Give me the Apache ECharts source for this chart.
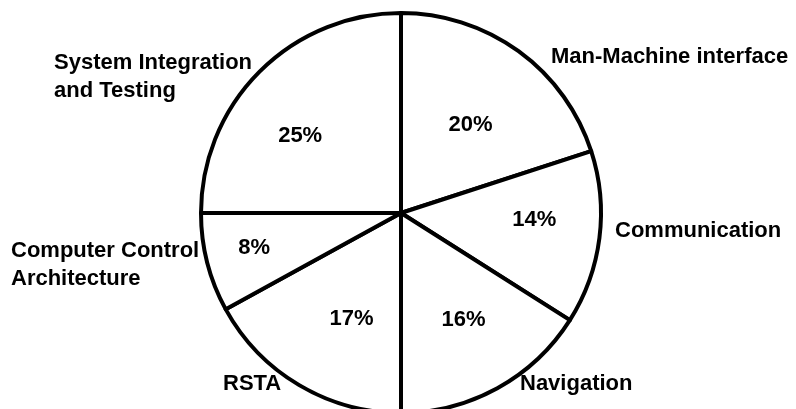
<!DOCTYPE html>
<html>
<head>
<meta charset="utf-8">
<script src="https://cdn.jsdelivr.net/npm/echarts@6/dist/echarts.min.js"></script>
<style>
html,body{margin:0;padding:0;background:#fff;}
#chart{width:796px;height:409px;}
</style>
</head>
<body>
<div id="chart"></div>
<script>
// Data (clockwise from 12 o'clock)
const categories = ['Man-Machine interface', 'Communication', 'Navigation', 'RSTA', 'Computer Control\nArchitecture', 'System Integration\nand Testing'];
const shares = [20, 14, 16, 17, 8, 25];

// Label styling / placement (not data)
const pctOffsets = [[9, -5], [31, -6], [13, 17], [3, 17], [-47, 9], [-28, -4]];
const namePos = [[551, 57], [615, 231], [520, 384], [223, 384], [11, 265], [54, 77]];

const FONT = '"Liberation Sans", Arial, Helvetica, sans-serif';
const center = [401, 213];
const radius = 200;

const chart = echarts.init(document.getElementById('chart'), null, {renderer: 'canvas'});
const pieData = categories.map((c, i) => ({name: c, value: shares[i]}));

chart.setOption({
  animation: false,
  backgroundColor: '#ffffff',
  series: [
    {
      type: 'pie',
      center: center,
      radius: radius,
      startAngle: 90,
      clockwise: true,
      avoidLabelOverlap: false,
      silent: true,
      data: pieData,
      itemStyle: {color: '#ffffff', borderColor: '#000000', borderWidth: 4},
      label: {
        show: true,
        position: 'inside',
        formatter: '{c}%',
        color: '#000',
        fontFamily: FONT,
        fontWeight: 'bold',
        fontSize: 22
      },
      labelLine: {show: false},
      emphasis: {disabled: true},
      labelLayout: function (p) {
        const o = pctOffsets[p.dataIndex];
        return {dx: o[0], dy: o[1]};
      }
    },
    {
      type: 'pie',
      center: center,
      radius: radius,
      startAngle: 90,
      clockwise: true,
      avoidLabelOverlap: false,
      silent: true,
      z: 1,
      data: pieData,
      itemStyle: {color: 'rgba(0,0,0,0)', borderWidth: 0},
      label: {
        show: true,
        position: 'outside',
        formatter: '{b}',
        color: '#000',
        fontFamily: FONT,
        fontWeight: 'bold',
        fontSize: 22,
        lineHeight: 28,
        align: 'left'
      },
      labelLine: {show: false},
      emphasis: {disabled: true},
      labelLayout: function (p) {
        const q = namePos[p.dataIndex];
        return {x: q[0], y: q[1], align: 'left', verticalAlign: 'middle'};
      }
    }
  ]
});
</script>
</body>
</html>
